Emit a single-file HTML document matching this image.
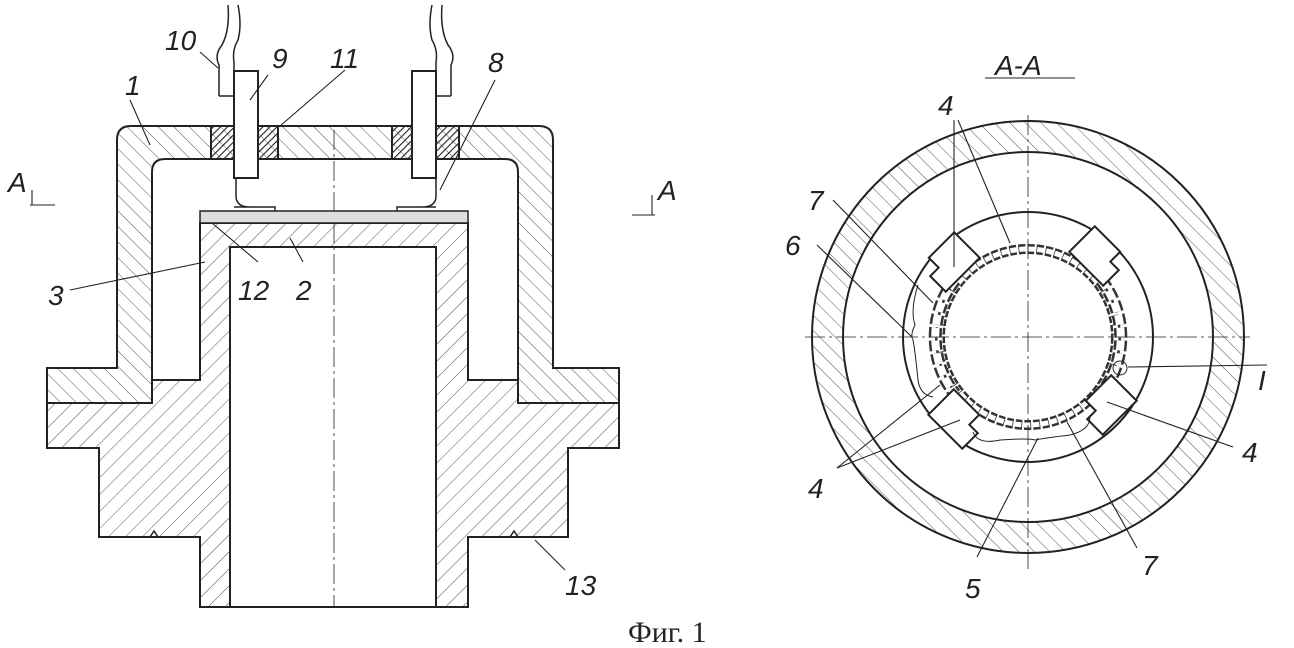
<!DOCTYPE html>
<html><head><meta charset="utf-8"><style>html,body{margin:0;padding:0;background:#fff}svg{display:block}</style></head><body>
<svg width="1294" height="648" viewBox="0 0 1294 648" xmlns="http://www.w3.org/2000/svg" font-family="Liberation Sans, sans-serif">
<defs>
<pattern id="h" width="12" height="12" patternUnits="userSpaceOnUse" patternTransform="rotate(45)"><line x1="0" y1="0" x2="0" y2="12" stroke="#555" stroke-width="1"/></pattern>
<pattern id="h2" width="11" height="11" patternUnits="userSpaceOnUse" patternTransform="rotate(-45)"><line x1="0" y1="0" x2="0" y2="11" stroke="#555" stroke-width="1"/></pattern>
<pattern id="hd" width="5" height="5" patternUnits="userSpaceOnUse" patternTransform="rotate(45)"><line x1="0" y1="0" x2="0" y2="5" stroke="#222" stroke-width="2.2"/></pattern>
</defs>
<g stroke="#222" stroke-width="2" fill="none">
<path d="M47 368 H117 V140 Q117 126 131 126 H539 Q553 126 553 140 V368 H619 V403 H518 V380 H518 V172 Q518 159 505 159 H165 Q152 159 152 172 V380 V403 H47 Z" fill="url(#h2)"/>
<path d="M200 223 H468 V380 H518 V403 H619 V448 H568 V537 H468 V607 H200 V537 H99 V448 H47 V403 H152 V380 H200 Z" fill="url(#h)"/>
<rect x="230" y="247" width="206" height="360" fill="#fff"/>
<path d="M150 537 l4 -6 l4 6 M510 537 l4 -6 l4 6" stroke-width="1.5"/>
<line x1="334" y1="130" x2="334" y2="607" stroke-width="0.8" stroke-dasharray="20 4 3 4"/>
<rect x="200" y="211" width="268" height="12" fill="#ddd" stroke-width="1.5"/>
<rect x="211" y="126" width="67" height="33" fill="url(#hd)"/>
<rect x="392" y="126" width="67" height="33" fill="url(#hd)"/>
<rect x="234" y="71" width="24" height="107" fill="#fff"/>
<rect x="412" y="71" width="24" height="107" fill="#fff"/>
<path d="M236 178 V196 Q236 207 250 207 H275 V211 M234 207 H275" stroke-width="1.5"/>
<path d="M436 178 V196 Q436 207 422 207 H397 V211 M436 207 H397" stroke-width="1.5"/>
<path d="M219 96 H234 M219 96 V65 Q214 55 222 45 Q230 30 228 5 M234 71 V62 Q232 50 238 40 Q242 25 238 5" stroke-width="1.5"/>
<path d="M451 96 H436 M451 96 V65 Q456 55 448 45 Q440 30 442 5 M436 71 V62 Q438 50 432 40 Q428 25 432 5" stroke-width="1.5"/>
<circle cx="1028" cy="337" r="216" fill="url(#h2)"/>
<circle cx="1028" cy="337" r="185" fill="#fff"/>
<circle cx="1028" cy="337" r="125" fill="#fff"/>
<circle cx="1028" cy="337" r="88" stroke-dasharray="7 2" stroke-width="10" stroke="#333"/>
<circle cx="1028" cy="337" r="88" stroke-dasharray="7 2" stroke-width="5" stroke="#fff" transform="rotate(0.5 1028 337)"/>
<path d="M955 280 A92 92 0 0 0 955 394 M1101 280 A92 92 0 0 1 1101 394" stroke-dasharray="10 3" stroke-width="13" stroke="#333"/>
<path d="M955 280 A92 92 0 0 0 955 394 M1101 280 A92 92 0 0 1 1101 394" stroke-dasharray="10 3" stroke-width="8" stroke="#fff"/>
<circle cx="1028" cy="337" r="81" fill="#fff" stroke="none"/>
<g fill="#fff" stroke-width="2">
<path d="M-24 -18 H24 V4 H12 V18 H-24 Z" transform="translate(950,262) rotate(-45) rotate(180)"/>
<path d="M-24 -18 H24 V18 H-12 V4 H-24 Z" transform="translate(1099,256) rotate(45) rotate(180)"/>
<path d="M-24 -18 H12 V-4 H24 V18 H-24 Z" transform="translate(958,419) rotate(45)"/>
<path d="M-24 -4 H-12 V-18 H24 V18 H-24 Z" transform="translate(1107,405) rotate(-45)"/>
</g>
<path d="M918 285 Q910 310 915 325 Q910 335 913 340 Q915 350 918 380 Q920 395 933 397" stroke-width="1"/>
<path d="M973 432 Q978 445 1000 440 Q1030 438 1035 440 Q1045 438 1070 435 Q1090 430 1090 417" stroke-width="1"/>
<circle cx="1120" cy="368" r="7" stroke-width="1"/>
<line x1="805" y1="337" x2="1250" y2="337" stroke-width="0.8" stroke-dasharray="20 4 3 4"/>
<line x1="1028" y1="115" x2="1028" y2="570" stroke-width="0.8" stroke-dasharray="20 4 3 4"/>
<g stroke-width="1.1">
<line x1="200" y1="52" x2="218" y2="68"/><line x1="130" y1="100" x2="150" y2="145"/>
<line x1="268" y1="75" x2="250" y2="100"/><line x1="345" y1="70" x2="280" y2="126"/>
<line x1="495" y1="80" x2="440" y2="190"/><line x1="70" y1="290" x2="205" y2="262"/>
<line x1="258" y1="262" x2="212" y2="223"/><line x1="303" y1="262" x2="290" y2="238"/>
<line x1="565" y1="570" x2="535" y2="540"/>
<line x1="1128" y1="367" x2="1267" y2="365"/>
<line x1="954" y1="120" x2="954" y2="267"/><line x1="958" y1="120" x2="1010" y2="243"/>
<line x1="837" y1="468" x2="940" y2="385"/><line x1="837" y1="468" x2="960" y2="420"/>
<line x1="1233" y1="447" x2="1107" y2="402"/>
<line x1="1137" y1="548" x2="1067" y2="422"/>
<line x1="977" y1="557" x2="1038" y2="438"/>
<line x1="817" y1="245" x2="912" y2="337"/><line x1="833" y1="200" x2="933" y2="303"/>
<line x1="30" y1="205" x2="55" y2="205"/><line x1="632" y1="215" x2="655" y2="215"/>
<line x1="32" y1="190" x2="32" y2="205"/><line x1="652" y1="195" x2="652" y2="215"/>
<line x1="985" y1="78" x2="1075" y2="78"/>
</g>
</g>
<g font-size="28" font-style="italic" fill="#222">
<text x="165" y="50">10</text><text x="272" y="68">9</text><text x="330" y="68">11</text><text x="488" y="72">8</text>
<text x="125" y="95">1</text><text x="8" y="192">A</text><text x="658" y="200">A</text>
<text x="48" y="305">3</text><text x="238" y="300">12</text><text x="296" y="300">2</text><text x="565" y="595">13</text>
<text x="995" y="75">A-A</text><text x="938" y="115">4</text><text x="808" y="210">7</text><text x="785" y="255">6</text>
<text x="1258" y="390">I</text><text x="1242" y="462">4</text><text x="808" y="498">4</text><text x="1142" y="575">7</text><text x="965" y="598">5</text>
</g>
<text x="628" y="642" font-family="Liberation Serif, serif" font-size="30" fill="#222">Фиг. 1</text>
</svg>
</body></html>
